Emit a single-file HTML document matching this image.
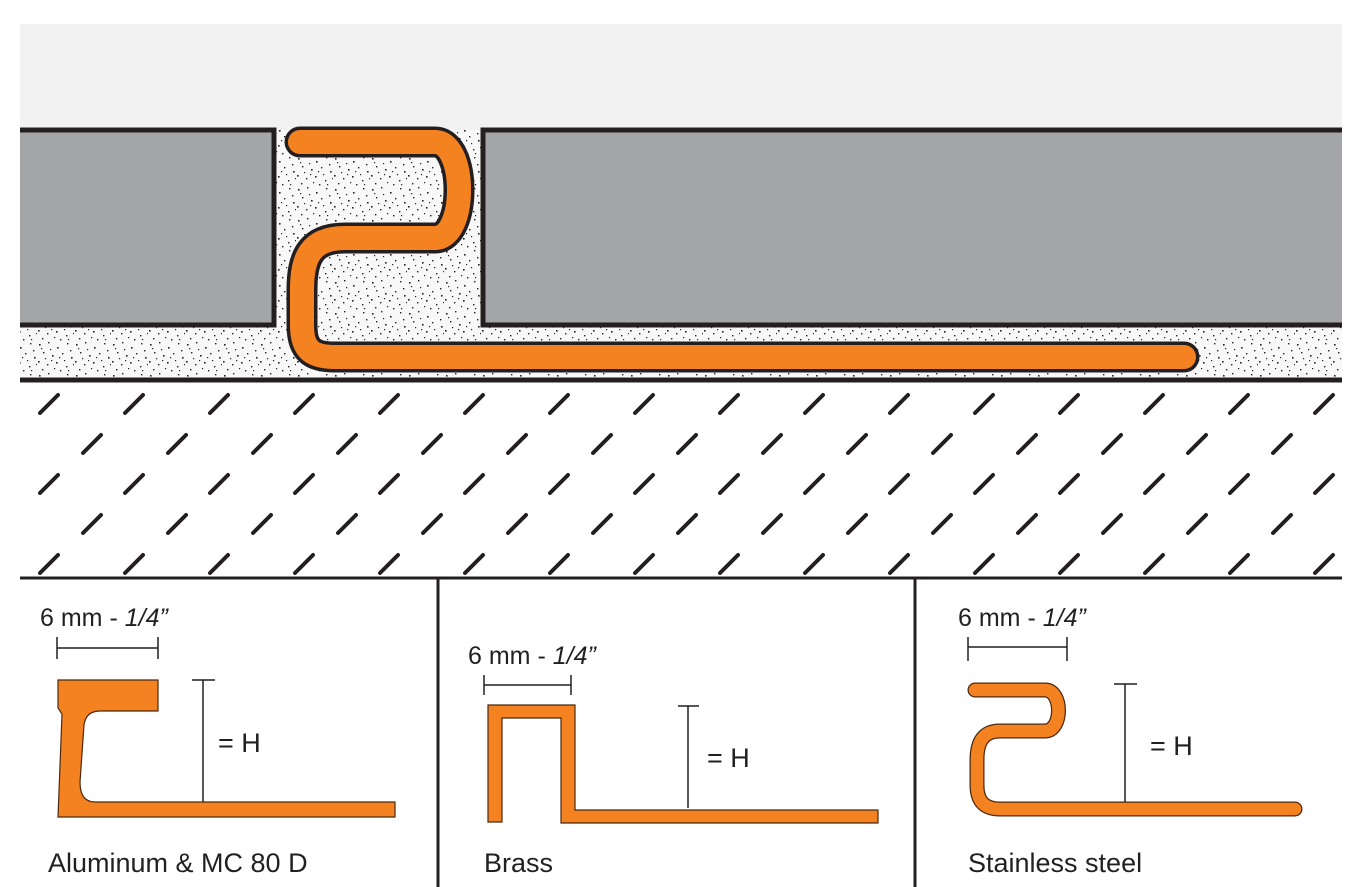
<!DOCTYPE html>
<html><head><meta charset="utf-8"><style>
html,body{margin:0;padding:0;background:#fff;}
svg{display:block}
text{font-family:"Liberation Sans",Arial,sans-serif;fill:#231f20}
</style></head><body>
<svg width="1368" height="887" viewBox="0 0 1368 887" xmlns="http://www.w3.org/2000/svg">
<defs>
<pattern id="dots" width="37" height="31" patternUnits="userSpaceOnUse">
<rect width="37" height="31" fill="#f8f8f8"/>
<g fill="#222">
<rect x="2" y="3" width="1.6" height="1.6"/><rect x="11" y="1" width="1.4" height="1.4"/><rect x="20" y="6" width="1.6" height="1.6"/><rect x="30" y="2" width="1.4" height="1.4"/>
<rect x="6" y="11" width="1.4" height="1.4"/><rect x="15" y="14" width="1.6" height="1.6"/><rect x="25" y="12" width="1.4" height="1.4"/><rect x="34" y="16" width="1.6" height="1.6"/>
<rect x="1" y="20" width="1.6" height="1.6"/><rect x="10" y="23" width="1.4" height="1.4"/><rect x="19" y="21" width="1.6" height="1.6"/><rect x="29" y="25" width="1.4" height="1.4"/>
<rect x="5" y="28" width="1.4" height="1.4"/><rect x="23" y="29" width="1.4" height="1.4"/><rect x="33" y="9" width="1.4" height="1.4"/><rect x="13" y="8" width="1.2" height="1.2"/>
<rect x="8" y="17" width="1.2" height="1.2"/><rect x="27" y="19" width="1.2" height="1.2"/><rect x="17" y="27" width="1.2" height="1.2"/><rect x="31" y="29" width="1.2" height="1.2"/>
<rect x="4" y="7" width="1.2" height="1.2"/><rect x="22" y="16" width="1.2" height="1.2"/><rect x="36" y="23" width="1.2" height="1.2"/><rect x="14" y="19" width="1.2" height="1.2"/>
</g></pattern>
<pattern id="hatch" width="85" height="80" patternUnits="userSpaceOnUse" x="20" y="383">
<line x1="20" y1="30" x2="38" y2="12" stroke="#231f20" stroke-width="4" stroke-linecap="round"/>
<line x1="-22" y1="70" x2="-4" y2="52" stroke="#231f20" stroke-width="4" stroke-linecap="round"/>
<line x1="63" y1="70" x2="81" y2="52" stroke="#231f20" stroke-width="4" stroke-linecap="round"/>
</pattern>
</defs>
<rect x="20" y="24" width="1322" height="106" fill="#f1f1f1"/>
<rect x="20" y="130" width="1322" height="250" fill="url(#dots)"/>
<rect x="20" y="132" width="252" height="193" fill="#a4a5a9"/>
<rect x="485" y="132" width="857" height="193" fill="#a4a5a9"/>
<path d="M20 130 H274 V325 H20" fill="none" stroke="#231f20" stroke-width="5"/>
<path d="M1342 130 H483 V325 H1342" fill="none" stroke="#231f20" stroke-width="5"/>
<line x1="20" y1="380" x2="1342" y2="380" stroke="#231f20" stroke-width="5"/>
<rect x="20" y="383" width="1322" height="193" fill="url(#hatch)"/>
<line x1="20" y1="578" x2="1342" y2="578" stroke="#231f20" stroke-width="3"/>
<line x1="438" y1="578" x2="438" y2="887" stroke="#231f20" stroke-width="3"/>
<line x1="915" y1="578" x2="915" y2="887" stroke="#231f20" stroke-width="3"/>
<!-- main profile -->
<g fill="none" stroke-linejoin="round" stroke-linecap="round">
<path d="M300 142 H435 C467 142 467 238 435 238 H345 C310 238 302 258 302 290 V325 C302 350 312 357 335 357 H1184" stroke="#231f20" stroke-width="31"/>
<path d="M300 142 H435 C467 142 467 238 435 238 H345 C310 238 302 258 302 290 V325 C302 350 312 357 335 357 H1184" stroke="#f58220" stroke-width="24"/>
</g>
<!-- panel 1 -->
<text x="40" y="626" font-size="25">6 mm - <tspan font-style="italic">1/4”</tspan></text>
<g stroke="#231f20" stroke-width="1.5"><line x1="57" y1="648" x2="158" y2="648"/><line x1="57" y1="637" x2="57" y2="659"/><line x1="158" y1="637" x2="158" y2="659"/>
<line x1="203" y1="680" x2="203" y2="802"/><line x1="192" y1="680" x2="215" y2="680"/></g>
<path d="M58 680 H158 V711 H100 Q86 711 84 725 L80 782 Q80 802 95 802 H395 V817 H58 L62 714 L58 708 Z" fill="#f58220" stroke="#4a2a10" stroke-width="1.2"/>
<text x="218" y="752" font-size="27">= H</text>
<text x="48" y="872" font-size="27">Aluminum &amp; MC 80 D</text>
<!-- panel 2 -->
<text x="468" y="664" font-size="25">6 mm - <tspan font-style="italic">1/4”</tspan></text>
<g stroke="#231f20" stroke-width="1.5"><line x1="484" y1="685" x2="571" y2="685"/><line x1="484" y1="675" x2="484" y2="695"/><line x1="571" y1="675" x2="571" y2="695"/>
<line x1="688" y1="706" x2="688" y2="808"/><line x1="678" y1="706" x2="699" y2="706"/></g>
<path d="M488 705 H575 V810 H878 V823 H561 V718 H502 V822 H488 Z" fill="#f58220" stroke="#4a2a10" stroke-width="1.2"/>
<text x="707" y="767" font-size="27">= H</text>
<text x="484" y="872" font-size="27">Brass</text>
<!-- panel 3 -->
<text x="958" y="626" font-size="25">6 mm - <tspan font-style="italic">1/4”</tspan></text>
<g stroke="#231f20" stroke-width="1.5"><line x1="968" y1="647" x2="1067" y2="647"/><line x1="968" y1="637" x2="968" y2="661"/><line x1="1067" y1="637" x2="1067" y2="661"/>
<line x1="1125" y1="684" x2="1125" y2="803"/><line x1="1114" y1="684" x2="1137" y2="684"/></g>
<g fill="none" stroke-linejoin="round" stroke-linecap="round">
<path d="M975 690 H1045 C1063 690 1063 731 1045 731 H1000 C983 731 977 742 977 760 V785 C977 802 985 809 1000 809 H1295" stroke="#4a2a10" stroke-width="15"/>
<path d="M975 690 H1045 C1063 690 1063 731 1045 731 H1000 C983 731 977 742 977 760 V785 C977 802 985 809 1000 809 H1295" stroke="#f58220" stroke-width="12.5"/>
</g>
<text x="1150" y="755" font-size="27">= H</text>
<text x="968" y="872" font-size="27">Stainless steel</text>
</svg>
</body></html>
